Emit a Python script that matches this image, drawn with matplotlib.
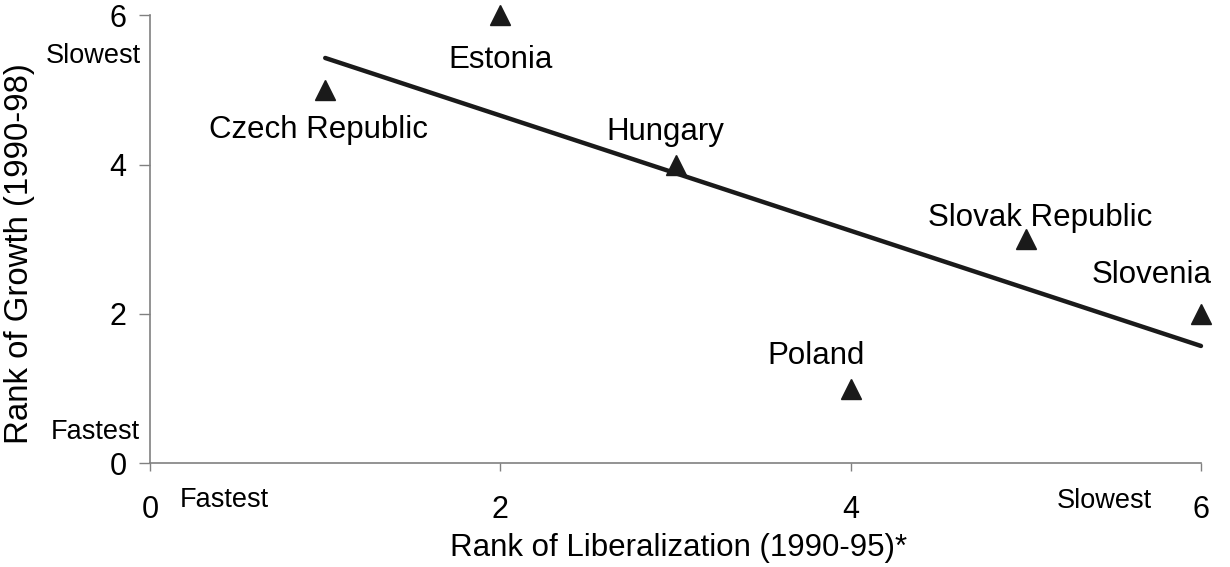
import matplotlib.pyplot as plt
import numpy as np

plt.rcParams["font.family"] = ["Liberation Sans", "DejaVu Sans"]

countries = ["Czech Republic", "Estonia", "Hungary", "Poland", "Slovak Republic", "Slovenia"]
liberalization_rank = [1, 2, 3, 4, 5, 6]
growth_rank = [5, 6, 4, 1, 3, 2]
# where each country's name sits (data coords)
label_x = [0.96, 2.0, 2.94, 3.80, 5.08, 5.72]
label_y = [4.46, 5.40, 4.44, 1.44, 3.28, 2.52]
ticks = [0, 2, 4, 6]


def main() -> None:
    fig = plt.figure(figsize=(12.3, 5.67), dpi=100)
    ax = fig.add_axes([0.122, 0.1829, 0.8544, 0.7901])

    x = np.array(liberalization_rank, dtype=float)
    y = np.array(growth_rank, dtype=float)
    slope, intercept = np.polyfit(x, y, 1)
    xs = np.array([x.min(), x.max()])
    ax.plot(xs, slope * xs + intercept, color="#1a1a1a", lw=3.2,
            solid_capstyle="round", zorder=2, clip_on=False)

    ax.plot(x, y, linestyle="none", marker="^", markersize=14,
            color="#1a1a1a", zorder=3, clip_on=False)

    for name, lx, ly in zip(countries, label_x, label_y):
        ax.text(lx, ly, name, ha="center", va="center", fontsize=22.5)

    ax.set_xlim(0, 6)
    ax.set_ylim(0, 6)
    ax.set_xticks(ticks)
    ax.set_yticks(ticks)
    ax.tick_params(axis="both", labelsize=22, color="#808080", width=1)
    ax.tick_params(axis="x", length=6, pad=17)
    ax.tick_params(axis="y", length=8, pad=9)

    for side in ["top", "right"]:
        ax.spines[side].set_visible(False)
    for side in ["left", "bottom"]:
        ax.spines[side].set_color("#808080")
        ax.spines[side].set_linewidth(1.2)

    small = dict(fontsize=19.5, clip_on=False)
    ax.text(-0.05, 5.46, "Slowest", ha="right", va="center", **small)
    ax.text(-0.06, 0.42, "Fastest", ha="right", va="center", **small)
    ax.text(0.17, -0.49, "Fastest", ha="left", va="center", **small)
    ax.text(5.72, -0.51, "Slowest", ha="right", va="center", **small)

    ax.set_xlabel("Rank of Liberalization (1990-95)*", fontsize=22.5, va="center")
    ax.set_ylabel("Rank of Growth (1990-98)", fontsize=23.8, va="center")
    ax.xaxis.set_label_coords(0.503, -0.19)
    ax.yaxis.set_label_coords(-0.124, 0.467)

    fig.savefig("out.png", dpi=100)


if __name__ == "__main__":
    main()
